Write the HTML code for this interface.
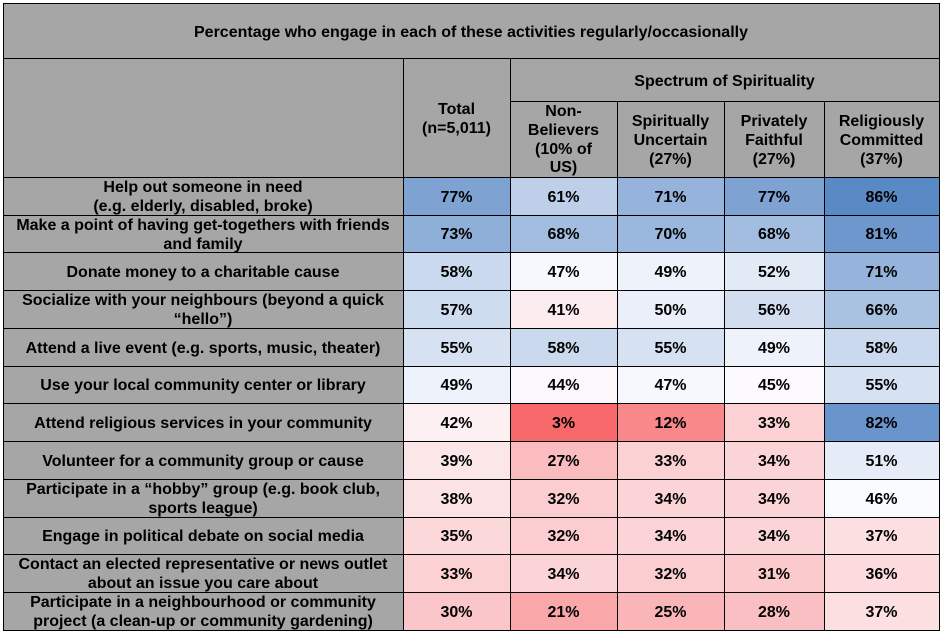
<!DOCTYPE html>
<html><head><meta charset="utf-8">
<style>
*{margin:0;padding:0;box-sizing:border-box}
html,body{width:943px;height:635px;background:#fff;overflow:hidden}
body{position:relative;font-family:"Liberation Sans",Arial,sans-serif;color:#000}
.bg{position:absolute;left:3px;top:3px;width:936px;height:627px;background:#a6a6a6}
.c{position:absolute;display:flex;align-items:center;justify-content:center;text-align:center;font-weight:bold;font-size:16px;line-height:19px;white-space:nowrap;padding-top:2px}
.h{position:absolute;height:1px;background:#000}
.v{position:absolute;width:1px;background:#000}
</style></head><body>
<div class="bg"></div>

<!-- headers -->
<div class="c" style="left:3px;top:3px;width:936px;height:55px;padding-top:4px">Percentage who engage in each of these activities regularly/occasionally</div>
<div class="c" style="left:403px;top:58px;width:107px;height:119px">Total<br>(n=5,011)</div>
<div class="c" style="left:510px;top:58px;width:429px;height:43px;padding-top:3px">Spectrum of Spirituality</div>
<div class="c" style="left:510px;top:101px;width:107px;height:77px;line-height:18.7px">Non-<br>Believers<br>(10% of<br>US)</div>
<div class="c" style="left:617px;top:101px;width:107px;height:76px">Spiritually<br>Uncertain<br>(27%)</div>
<div class="c" style="left:724px;top:101px;width:100px;height:76px">Privately<br>Faithful<br>(27%)</div>
<div class="c" style="left:824px;top:101px;width:115px;height:76px">Religiously<br>Committed<br>(37%)</div>

<!-- row 1 -->
<div class="c" style="left:3px;top:177px;width:400px;height:38px">Help out someone in need<br>(e.g. elderly, disabled, broke)</div>
<div class="c" style="left:403px;top:177px;width:107px;height:38px;background:rgb(126,163,211)">77%</div>
<div class="c" style="left:510px;top:177px;width:107px;height:38px;background:rgb(190,208,233)">61%</div>
<div class="c" style="left:617px;top:177px;width:107px;height:38px;background:rgb(150,180,219)">71%</div>
<div class="c" style="left:724px;top:177px;width:100px;height:38px;background:rgb(126,163,211)">77%</div>
<div class="c" style="left:824px;top:177px;width:115px;height:38px;background:rgb(90,138,198)">86%</div>
<!-- row 2 -->
<div class="c" style="left:3px;top:215px;width:400px;height:37px">Make a point of having get-togethers with friends<br>and family</div>
<div class="c" style="left:403px;top:215px;width:107px;height:37px;background:rgb(142,175,216)">73%</div>
<div class="c" style="left:510px;top:215px;width:107px;height:37px;background:rgb(162,189,223)">68%</div>
<div class="c" style="left:617px;top:215px;width:107px;height:37px;background:rgb(154,183,221)">70%</div>
<div class="c" style="left:724px;top:215px;width:100px;height:37px;background:rgb(162,189,223)">68%</div>
<div class="c" style="left:824px;top:215px;width:115px;height:37px;background:rgb(110,152,205)">81%</div>
<!-- row 3 -->
<div class="c" style="left:3px;top:252px;width:400px;height:38px">Donate money to a charitable cause</div>
<div class="c" style="left:403px;top:252px;width:107px;height:38px;background:rgb(202,217,237)">58%</div>
<div class="c" style="left:510px;top:252px;width:107px;height:38px;background:rgb(246,248,253)">47%</div>
<div class="c" style="left:617px;top:252px;width:107px;height:38px;background:rgb(238,242,250)">49%</div>
<div class="c" style="left:724px;top:252px;width:100px;height:38px;background:rgb(226,234,246)">52%</div>
<div class="c" style="left:824px;top:252px;width:115px;height:38px;background:rgb(150,180,219)">71%</div>
<!-- row 4 -->
<div class="c" style="left:3px;top:290px;width:400px;height:38px">Socialize with your neighbours (beyond a quick<br>“hello”)</div>
<div class="c" style="left:403px;top:290px;width:107px;height:38px;background:rgb(206,220,239)">57%</div>
<div class="c" style="left:510px;top:290px;width:107px;height:38px;background:rgb(252,236,239)">41%</div>
<div class="c" style="left:617px;top:290px;width:107px;height:38px;background:rgb(234,239,249)">50%</div>
<div class="c" style="left:724px;top:290px;width:100px;height:38px;background:rgb(210,222,240)">56%</div>
<div class="c" style="left:824px;top:290px;width:115px;height:38px;background:rgb(170,194,226)">66%</div>
<!-- row 5 -->
<div class="c" style="left:3px;top:328px;width:400px;height:38px">Attend a live event (e.g. sports, music, theater)</div>
<div class="c" style="left:403px;top:328px;width:107px;height:38px;background:rgb(214,225,242)">55%</div>
<div class="c" style="left:510px;top:328px;width:107px;height:38px;background:rgb(202,217,237)">58%</div>
<div class="c" style="left:617px;top:328px;width:107px;height:38px;background:rgb(214,225,242)">55%</div>
<div class="c" style="left:724px;top:328px;width:100px;height:38px;background:rgb(238,242,250)">49%</div>
<div class="c" style="left:824px;top:328px;width:115px;height:38px;background:rgb(202,217,237)">58%</div>
<!-- row 6 -->
<div class="c" style="left:3px;top:366px;width:400px;height:37px">Use your local community center or library</div>
<div class="c" style="left:403px;top:366px;width:107px;height:37px;background:rgb(238,242,250)">49%</div>
<div class="c" style="left:510px;top:366px;width:107px;height:37px;background:rgb(252,247,250)">44%</div>
<div class="c" style="left:617px;top:366px;width:107px;height:37px;background:rgb(246,248,253)">47%</div>
<div class="c" style="left:724px;top:366px;width:100px;height:37px;background:rgb(252,250,253)">45%</div>
<div class="c" style="left:824px;top:366px;width:115px;height:37px;background:rgb(214,225,242)">55%</div>
<!-- row 7 -->
<div class="c" style="left:3px;top:403px;width:400px;height:38px">Attend religious services in your community</div>
<div class="c" style="left:403px;top:403px;width:107px;height:38px;background:rgb(252,240,243)">42%</div>
<div class="c" style="left:510px;top:403px;width:107px;height:38px;background:rgb(248,105,107)">3%</div>
<div class="c" style="left:617px;top:403px;width:107px;height:38px;background:rgb(249,136,138)">12%</div>
<div class="c" style="left:724px;top:403px;width:100px;height:38px;background:rgb(251,209,211)">33%</div>
<div class="c" style="left:824px;top:403px;width:115px;height:38px;background:rgb(106,149,204)">82%</div>
<!-- row 8 -->
<div class="c" style="left:3px;top:441px;width:400px;height:38px">Volunteer for a community group or cause</div>
<div class="c" style="left:403px;top:441px;width:107px;height:38px;background:rgb(251,230,232)">39%</div>
<div class="c" style="left:510px;top:441px;width:107px;height:38px;background:rgb(250,188,191)">27%</div>
<div class="c" style="left:617px;top:441px;width:107px;height:38px;background:rgb(251,209,211)">33%</div>
<div class="c" style="left:724px;top:441px;width:100px;height:38px;background:rgb(251,212,215)">34%</div>
<div class="c" style="left:824px;top:441px;width:115px;height:38px;background:rgb(230,236,247)">51%</div>
<!-- row 9 -->
<div class="c" style="left:3px;top:479px;width:400px;height:38px">Participate in a “hobby” group (e.g. book club,<br>sports league)</div>
<div class="c" style="left:403px;top:479px;width:107px;height:38px;background:rgb(251,226,229)">38%</div>
<div class="c" style="left:510px;top:479px;width:107px;height:38px;background:rgb(251,205,208)">32%</div>
<div class="c" style="left:617px;top:479px;width:107px;height:38px;background:rgb(251,212,215)">34%</div>
<div class="c" style="left:724px;top:479px;width:100px;height:38px;background:rgb(251,212,215)">34%</div>
<div class="c" style="left:824px;top:479px;width:115px;height:38px;background:rgb(250,251,254)">46%</div>
<!-- row 10 -->
<div class="c" style="left:3px;top:517px;width:400px;height:37px">Engage in political debate on social media</div>
<div class="c" style="left:403px;top:517px;width:107px;height:37px;background:rgb(251,216,218)">35%</div>
<div class="c" style="left:510px;top:517px;width:107px;height:37px;background:rgb(251,205,208)">32%</div>
<div class="c" style="left:617px;top:517px;width:107px;height:37px;background:rgb(251,212,215)">34%</div>
<div class="c" style="left:724px;top:517px;width:100px;height:37px;background:rgb(251,212,215)">34%</div>
<div class="c" style="left:824px;top:517px;width:115px;height:37px;background:rgb(251,223,225)">37%</div>
<!-- row 11 -->
<div class="c" style="left:3px;top:554px;width:400px;height:38px">Contact an elected representative or news outlet<br>about an issue you care about</div>
<div class="c" style="left:403px;top:554px;width:107px;height:38px;background:rgb(251,209,211)">33%</div>
<div class="c" style="left:510px;top:554px;width:107px;height:38px;background:rgb(251,212,215)">34%</div>
<div class="c" style="left:617px;top:554px;width:107px;height:38px;background:rgb(251,205,208)">32%</div>
<div class="c" style="left:724px;top:554px;width:100px;height:38px;background:rgb(251,202,204)">31%</div>
<div class="c" style="left:824px;top:554px;width:115px;height:38px;background:rgb(251,219,222)">36%</div>
<!-- row 12 -->
<div class="c" style="left:3px;top:592px;width:400px;height:38px">Participate in a neighbourhood or community<br>project (a clean-up or community gardening)</div>
<div class="c" style="left:403px;top:592px;width:107px;height:38px;background:rgb(251,198,201)">30%</div>
<div class="c" style="left:510px;top:592px;width:107px;height:38px;background:rgb(250,167,170)">21%</div>
<div class="c" style="left:617px;top:592px;width:107px;height:38px;background:rgb(250,181,184)">25%</div>
<div class="c" style="left:724px;top:592px;width:100px;height:38px;background:rgb(250,191,194)">28%</div>
<div class="c" style="left:824px;top:592px;width:115px;height:38px;background:rgb(251,223,225)">37%</div>

<!-- horizontal lines -->
<div class="h" style="left:3px;top:3px;width:937px"></div>
<div class="h" style="left:3px;top:58px;width:937px"></div>
<div class="h" style="left:510px;top:101px;width:430px"></div>
<div class="h" style="left:3px;top:177px;width:937px"></div>
<div class="h" style="left:3px;top:215px;width:937px"></div>
<div class="h" style="left:3px;top:252px;width:937px"></div>
<div class="h" style="left:3px;top:290px;width:937px"></div>
<div class="h" style="left:3px;top:328px;width:937px"></div>
<div class="h" style="left:3px;top:366px;width:937px"></div>
<div class="h" style="left:3px;top:403px;width:937px"></div>
<div class="h" style="left:3px;top:441px;width:937px"></div>
<div class="h" style="left:3px;top:479px;width:937px"></div>
<div class="h" style="left:3px;top:517px;width:937px"></div>
<div class="h" style="left:3px;top:554px;width:937px"></div>
<div class="h" style="left:3px;top:592px;width:937px"></div>
<div class="h" style="left:3px;top:630px;width:937px"></div>
<!-- vertical lines -->
<div class="v" style="left:3px;top:3px;height:628px"></div>
<div class="v" style="left:939px;top:3px;height:628px"></div>
<div class="v" style="left:403px;top:58px;height:573px"></div>
<div class="v" style="left:510px;top:58px;height:573px"></div>
<div class="v" style="left:617px;top:101px;height:530px"></div>
<div class="v" style="left:724px;top:101px;height:530px"></div>
<div class="v" style="left:824px;top:101px;height:530px"></div>
</body></html>
